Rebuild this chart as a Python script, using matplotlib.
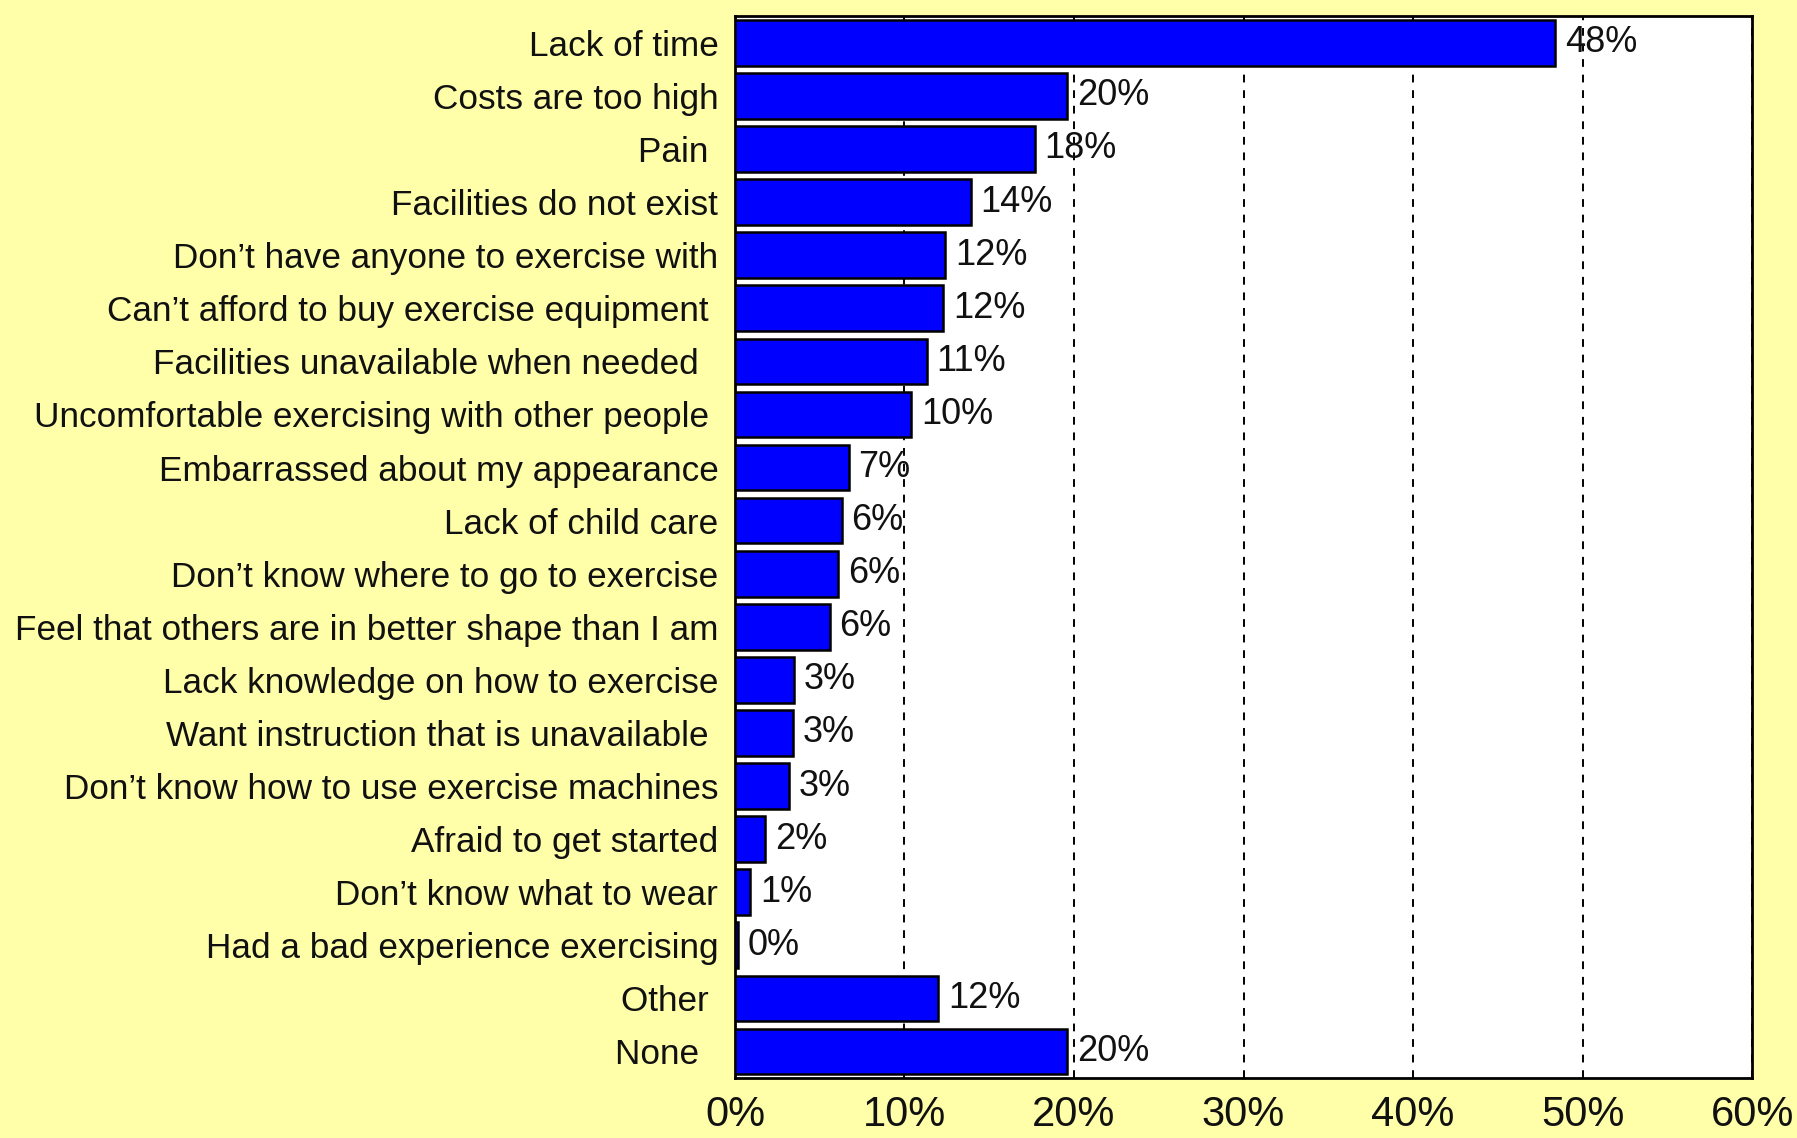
import matplotlib
matplotlib.use("Agg")
import matplotlib.pyplot as plt
from matplotlib.ticker import FuncFormatter

categories = [
    "Lack of time",
    "Costs are too high",
    "Pain ",
    "Facilities do not exist",
    "Don't have anyone to exercise with",
    "Can't afford to buy exercise equipment ",
    "Facilities unavailable when needed  ",
    "Uncomfortable exercising with other people ",
    "Embarrassed about my appearance",
    "Lack of child care",
    "Don't know where to go to exercise",
    "Feel that others are in better shape than I am",
    "Lack knowledge on how to exercise",
    "Want instruction that is unavailable ",
    "Don't know how to use exercise machines",
    "Afraid to get started",
    "Don't know what to wear",
    "Had a bad experience exercising",
    "Other ",
    "None  ",
]
categories = [c.replace("'", "\u2019") for c in categories]
values = [48.4, 19.6, 17.7, 13.9, 12.4, 12.3, 11.3, 10.4, 6.7, 6.3, 6.1, 5.6,
          3.5, 3.4, 3.2, 1.8, 0.9, 0.2, 12.0, 19.6]
value_labels = ["48%", "20%", "18%", "14%", "12%", "12%", "11%", "10%", "7%", "6%",
                "6%", "6%", "3%", "3%", "3%", "2%", "1%", "0%", "12%", "20%"]
xticks = [0, 10, 20, 30, 40, 50, 60]

plt.rcParams['font.family'] = ['Liberation Sans', 'DejaVu Sans']
bg = '#FFFFAA'

fig = plt.figure(figsize=(17.97, 11.38), dpi=100, facecolor=bg)
ax = fig.add_axes([0.409, 0.0527, 0.566, 0.933])
ax.set_facecolor('white')

pos = list(range(len(categories)))
ax.barh(pos, values, height=0.86, color='#0000FF', edgecolor='black',
        linewidth=1.8, zorder=3)
for p, v, lab in zip(pos, values, value_labels):
    ax.annotate(lab, (v, p), xytext=(7, 0), textcoords='offset points',
                va='center', ha='left', fontsize=26, color='#111111', zorder=4)

ax.set_xlim(0, 60)
ax.set_ylim(len(categories) - 0.5, -0.5)
ax.set_xticks(xticks)
ax.xaxis.set_major_formatter(FuncFormatter(lambda x, p: f"{x:.0f}%"))
ax.set_yticks(pos)
ax.set_yticklabels(categories, fontsize=25.3, color='#111111')
ax.tick_params(axis='y', length=0, pad=12)
ax.tick_params(axis='x', length=0, pad=12, labelsize=30, labelcolor='#111111')
ax.grid(axis='x', color='black', linestyle=(0, (4, 4)), linewidth=1.4, zorder=1)
for s in ax.spines.values():
    s.set_linewidth(2)
    s.set_color('black')

fig.savefig("out.png", dpi=100, facecolor=bg)
